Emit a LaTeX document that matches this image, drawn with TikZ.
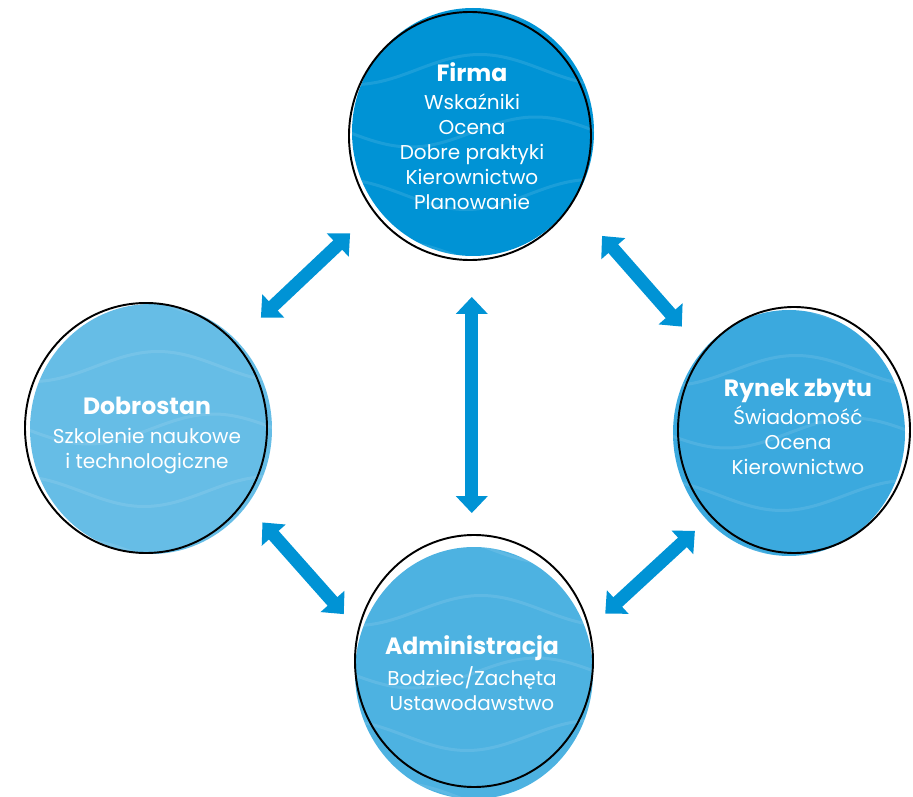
\documentclass[tikz,border=0pt]{standalone}
\usepackage{fontspec}
\setmainfont{Poppins}
\usetikzlibrary{arrows.meta,shapes.geometric}
\definecolor{firmablue}{HTML}{0093D5}
\definecolor{dobroblue}{HTML}{66BDE6}
\definecolor{rynekblue}{HTML}{3BA9DE}
\definecolor{adminblue}{HTML}{4DB2E1}
\definecolor{arrowblue}{HTML}{0093D5}
\def\bubbletitle#1{{\bfseries\fontsize{13.4}{16}\selectfont #1}}
\def\wavyfill[#1](#2)(#3:#4){%
	\fill[#1] (#2) ellipse ({#3} and {#4});
	\begin{scope}
		\clip (#2) ellipse ({#3} and {#4});
		\foreach \k in {-2,...,2}
			\draw[wavyline, shift={(#2)}] plot[domain=-2.7:2.7, samples=50, smooth] (\x, {1.25*\k+0.3*sin(72*\x+80*\k)});
	\end{scope}}

\begin{document}
\begin{tikzpicture}[
	wavyline/.style={white, opacity=0.1, line width=0.06cm},
	ring/.style={ellipse, draw=black, line width=1.1pt, inner sep=0pt},
	bubbletext/.style={white, align=center, inner sep=0pt, font=\fontsize{11.4}{14.2}\selectfont},
	twoway/.style={line width=0.26cm, color=arrowblue, <->, >={Triangle[width=0.62cm,length=0.34cm]}}
	]
	%%%%% START %%%%%
	
	\useasboundingbox (0, 0) rectangle (18.26, 15.92);
	
	% fills, a little off their rings
	\wavyfill[firmablue](9.46, 13.28)(2.42:2.48)
	\wavyfill[dobroblue](3.02, 7.34)(2.42:2.50)
	\wavyfill[rynekblue](15.78, 7.26)(2.32:2.46)
	\wavyfill[adminblue](9.48, 2.46)(2.38:2.52)
	
	% rings
	\node[ring, minimum width=4.84cm, minimum height=4.96cm] (firma) at (9.40, 13.20) {};
	\node[ring, minimum width=4.84cm, minimum height=5.00cm] (dobrostan) at (2.92, 7.36) {};
	\node[ring, minimum width=4.64cm, minimum height=4.92cm] (rynek) at (15.88, 7.32) {};
	\node[ring, minimum width=4.76cm, minimum height=5.04cm] (admin) at (9.48, 2.70) {};
	
	% texts
	\node[bubbletext] (firma-txt) at (9.44, 13.20) {\bubbletitle{Firma}\\[2pt] Wskaźniki\\ Ocena\\ Dobre praktyki\\ Kierownictwo\\ Planowanie};
	\node[bubbletext] (dobrostan-txt) at (2.94, 7.21) {\bubbletitle{Dobrostan}\\[2pt] Szkolenie naukowe\\ i technologiczne};
	\node[bubbletext] (rynek-txt) at (15.96, 7.38) {\bubbletitle{Rynek zbytu}\\[2pt] Świadomość\\ Ocena\\ Kierownictwo};
	\node[bubbletext] (admin-txt) at (9.44, 2.46) {\bubbletitle{Administracja}\\[2pt] Bodziec/Zachęta\\ Ustawodawstwo};
	
	% arrows
	\draw[twoway, shorten <=0.63cm, shorten >=0.71cm] (firma.218) -- (dobrostan.44);
	\draw[twoway, shorten <=0.88cm, shorten >=0.66cm] (firma.327) -- (rynek.139);
	\draw[twoway, shorten <=0.72cm, shorten >=0.42cm] (admin.91 |- firma.271) -- (admin.91);
	\draw[twoway, shorten <=0.54cm, shorten >=0.42cm] (dobrostan.323) -- (admin.165);
	\draw[twoway, shorten <=0.42cm, shorten >=0.42cm] (rynek.226) -- (admin.16);
	
	%%%%% END %%%%%
\end{tikzpicture}
\end{document}
